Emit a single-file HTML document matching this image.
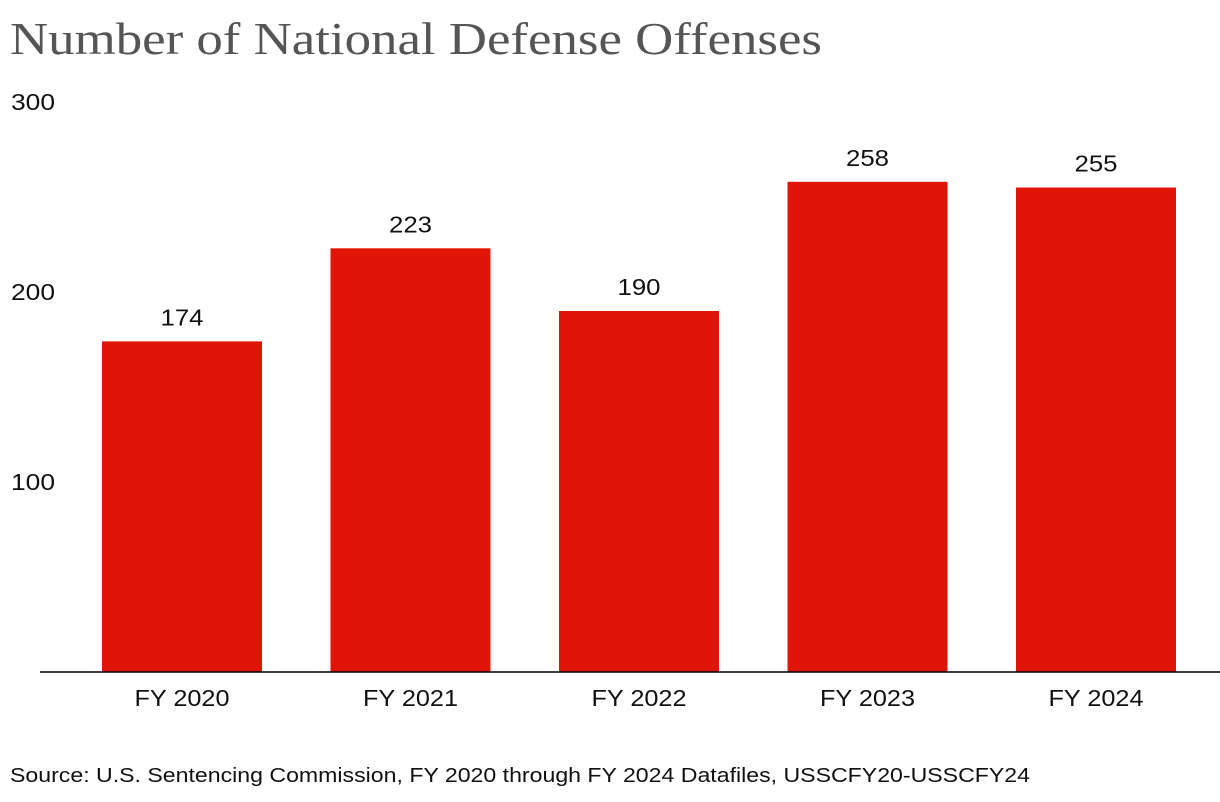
<!DOCTYPE html>
<html><head><meta charset="utf-8"><style>
body{margin:0;background:#fff;}
svg{display:block;font-family:"Liberation Sans",sans-serif;}
</style></head><body>
<svg id="chart" width="1220" height="802">
<text x="10" y="54" font-family="Liberation Serif,serif" font-size="46" fill="#555" textLength="812" lengthAdjust="spacingAndGlyphs">Number of National Defense Offenses</text>
<g id="yaxis"></g>
<g id="bars"></g>
<line x1="40" x2="1220" y1="672" y2="672" stroke="#000" stroke-width="1.5"/>
<g id="xaxis"></g>
<text x="10" y="782" font-size="20" fill="#111" textLength="1020" lengthAdjust="spacingAndGlyphs">Source: U.S. Sentencing Commission, FY 2020 through FY 2024 Datafiles, USSCFY20-USSCFY24</text>
</svg>
<script>
const categories=["FY 2020","FY 2021","FY 2022","FY 2023","FY 2024"];
const values=[174,223,190,258,255];
const yTicks=[100,200,300];
const NS="http://www.w3.org/2000/svg";
const y0=672,pxPerUnit=1.90,x0=102,step=228.5,bw=160;
const y=v=>y0-v*pxPerUnit;
const x=i=>x0+i*step;
function mk(t,a,p){const e=document.createElementNS(NS,t);for(const k in a)e.setAttribute(k,a[k]);p.appendChild(e);return e;}
const ya=document.getElementById('yaxis'),bars=document.getElementById('bars'),xa=document.getElementById('xaxis');
yTicks.forEach(v=>{const t=mk('text',{x:11,y:y(v)+8,'font-size':23,fill:'#111',textLength:44,lengthAdjust:'spacingAndGlyphs'},ya);t.textContent=v;

});
values.forEach((v,i)=>{
const r=mk('rect',{x:x(i),y:y(v),width:bw,height:v*pxPerUnit,fill:'#e01507'},bars);


const l=mk('text',{x:x(i)+bw/2-21.5,y:y(v)-16,'font-size':23,fill:'#111',textLength:43,lengthAdjust:'spacingAndGlyphs'},bars);l.textContent=v;


const c=mk('text',{x:x(i)+bw/2-47.5,y:706,'font-size':23,fill:'#111',textLength:95,lengthAdjust:'spacingAndGlyphs'},xa);c.textContent=categories[i];


});
</script>
</body></html>
